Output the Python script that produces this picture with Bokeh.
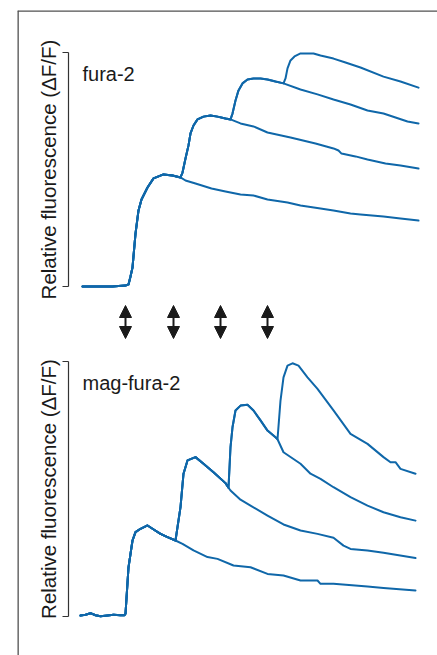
import math
from bokeh.plotting import figure
from bokeh.models import Range1d, Arrow, NormalHead, ColumnDataSource, Span
from bokeh.core.properties import value
from bokeh.embed import file_html
from bokeh.resources import INLINE

# ---------------- data (time in s, fluorescence relative to scale bar) ----------------
# fura-2 traces (1..4 stimuli)
fura_base_t = [0, 18, 30, 36, 43, 46, 48, 50, 53, 56, 59, 65, 71, 81, 90, 98]
fura_base_y = [0, 0, 0, 0.002, 0.004, 0.009, 0.043, 0.081, 0.226, 0.325, 0.372, 0.423, 0.462, 0.479, 0.474, 0.466]

fura1_t = [103, 113, 129, 143, 158, 171, 185, 205, 218, 238, 251, 268, 278, 301, 318, 336]
fura1_y = [0.453, 0.440, 0.419, 0.406, 0.393, 0.389, 0.372, 0.359, 0.346, 0.333, 0.325, 0.312, 0.308, 0.299, 0.291, 0.282]

fura2_rise_t = [100, 103, 106, 108, 111, 115, 121, 128, 135, 143, 148]
fura2_rise_y = [0.487, 0.547, 0.603, 0.654, 0.688, 0.714, 0.726, 0.731, 0.726, 0.718, 0.714]
fura2_t = [158, 171, 185, 208, 233, 251, 256, 259, 273, 285, 303, 318, 336]
fura2_y = [0.697, 0.684, 0.658, 0.637, 0.611, 0.590, 0.581, 0.568, 0.556, 0.543, 0.526, 0.517, 0.504]

fura3_rise_t = [150, 153, 156, 160, 165, 171, 178, 185, 193, 201]
fura3_rise_y = [0.739, 0.795, 0.838, 0.868, 0.885, 0.889, 0.889, 0.885, 0.876, 0.868]
fura3_t = [218, 235, 251, 268, 285, 301, 313, 325, 336]
fura3_y = [0.842, 0.821, 0.799, 0.778, 0.752, 0.739, 0.722, 0.705, 0.697]

fura4_t = [203, 205, 208, 212, 218, 225, 231, 238, 251, 263, 278, 301, 318, 336]
fura4_y = [0.889, 0.932, 0.966, 0.983, 0.996, 0.996, 0.996, 0.987, 0.974, 0.957, 0.936, 0.897, 0.876, 0.850]

# mag-fura-2 traces (1..4 stimuli)
mag_base_t = [-2, 3, 8, 13, 18, 25, 31, 38, 42, 43, 46, 50, 53, 58, 65, 70, 78, 85, 93]
mag_base_y = [0.004, 0.007, 0.013, 0.005, 0.001, 0.004, 0.007, 0.005, 0.005, 0.011, 0.193, 0.298,
              0.331, 0.344, 0.357, 0.344, 0.324, 0.311, 0.298]

mag1_t = [100, 111, 125, 135, 151, 168, 185, 201, 218, 235, 238, 251, 285, 301, 333]
mag1_y = [0.285, 0.259, 0.233, 0.226, 0.200, 0.193, 0.167, 0.161, 0.141, 0.141, 0.128, 0.128, 0.118, 0.112, 0.102]

mag2_rise_t = [98, 101, 105, 113, 121, 131, 143, 146]
mag2_rise_y = [0.429, 0.560, 0.612, 0.625, 0.599, 0.566, 0.523, 0.505]
mag2_t = [148, 158, 168, 185, 201, 218, 235, 251, 261, 268, 285, 301, 333]
mag2_y = [0.494, 0.458, 0.435, 0.396, 0.361, 0.337, 0.324, 0.309, 0.278, 0.265, 0.259, 0.250, 0.229]

mag3_rise_t = [148, 150, 153, 158, 165, 171, 178, 185, 193, 195]
mag3_rise_y = [0.664, 0.742, 0.808, 0.827, 0.830, 0.808, 0.769, 0.729, 0.703, 0.695]
mag3_t = [201, 218, 228, 238, 251, 268, 285, 301, 318, 333]
mag3_y = [0.644, 0.599, 0.560, 0.540, 0.507, 0.468, 0.435, 0.409, 0.389, 0.376]

mag4_t = [198, 201, 205, 210, 216, 225, 235, 251, 268, 285, 301, 308, 313, 318, 333]
mag4_y = [0.847, 0.938, 0.984, 0.993, 0.984, 0.938, 0.893, 0.808, 0.716, 0.677, 0.625, 0.605, 0.605, 0.579, 0.560]

stim_times = [43, 91, 138, 185]

panel_names = ["fura-2", "mag-fura-2"]
ylabel_text = "Relative fluorescence (\u0394F/F)"

# ---------------- layout ----------------
W, H = 437, 655
FL, FT = 17, 10          # frame left / top in px
PX_PER_T = 1.0
T0_PX = 82               # px of t = 0
TOP_ZERO, TOP_ONE = 286, 52
BOT_ZERO, BOT_ONE = 616, 361

x_start = (FL - T0_PX) / PX_PER_T
x_end = (W - T0_PX) / PX_PER_T
top_scale = TOP_ZERO - TOP_ONE
bot_scale = BOT_ZERO - BOT_ONE
y_top_end = (TOP_ZERO - FT) / top_scale

p = figure(width=W, height=H, output_backend="svg", toolbar_location=None,
           x_axis_type=None, y_axis_type=None,
           x_range=Range1d(x_start, x_end),
           y_range=Range1d((TOP_ZERO - H) / top_scale, y_top_end),
           min_border_left=FL, min_border_top=FT, min_border_right=0, min_border_bottom=0)
p.extra_y_ranges = {"mag": Range1d((BOT_ZERO - H) / bot_scale, (BOT_ZERO - FT) / bot_scale)}
p.grid.visible = False
p.outline_line_color = None
p.background_fill_color = "white"
p.border_fill_color = "white"

# frame lines (left and top only)
p.add_layout(Span(location=x_start, dimension="height", line_color="#505050", line_width=2.6))
p.add_layout(Span(location=y_top_end, dimension="width", line_color="#505050", line_width=2.6))

BLUE = "#0f67a9"
LW = 2.0

def trace(xs, ys, rng="default", w=LW):
    p.line(xs, ys, line_color=BLUE, line_width=w, line_join="round", line_cap="round", y_range_name=rng)

# fura-2
fura_full = [
    fura_base_t + fura1_t,
    fura_base_t + fura2_rise_t + fura2_t,
    fura_base_t + fura2_rise_t + fura3_rise_t + fura3_t,
    fura_base_t + fura2_rise_t + fura3_rise_t + fura4_t,
]
fura_full_y = [
    fura_base_y + fura1_y,
    fura_base_y + fura2_rise_y + fura2_y,
    fura_base_y + fura2_rise_y + fura3_rise_y + fura3_y,
    fura_base_y + fura2_rise_y + fura3_rise_y + fura4_y,
]
for xs, ys in zip(fura_full, fura_full_y):
    trace(xs, ys)

# mag-fura-2
mag_full = [
    mag_base_t + mag1_t,
    mag_base_t + mag2_rise_t + mag2_t,
    mag_base_t + mag2_rise_t + mag3_rise_t + mag3_t,
    mag_base_t + mag2_rise_t + mag3_rise_t + mag4_t,
]
mag_full_y = [
    mag_base_y + mag1_y,
    mag_base_y + mag2_rise_y + mag2_y,
    mag_base_y + mag2_rise_y + mag3_rise_y + mag3_y,
    mag_base_y + mag2_rise_y + mag3_rise_y + mag4_y,
]
for xs, ys in zip(mag_full, mag_full_y):
    trace(xs, ys, "mag")

# scale brackets
bx = (68 - T0_PX) / PX_PER_T
btick = (62 - T0_PX) / PX_PER_T
label_x = (48 - T0_PX) / PX_PER_T
for rng in ["default", "mag"]:
    p.segment(x0=[bx, btick, btick], y0=[0, 0, 1], x1=[bx, bx, bx], y1=[1, 0, 1],
              line_color="#333333", line_width=1.2, y_range_name=rng)
    p.text(x=[label_x], y=[0.5], text=[ylabel_text], angle=math.pi / 2,
           text_align="center", text_baseline="middle",
           text_font=value("Liberation Sans"), text_font_size="20.5px",
           text_color="#1a1a1a", y_range_name=rng)

# panel names
p.text(x=[0], y=[(TOP_ZERO - 73) / top_scale], text=[panel_names[0]],
       text_align="left", text_baseline="middle",
       text_font=value("Liberation Sans"), text_font_size="20px", text_color="#1a1a1a")
p.text(x=[0], y=[(BOT_ZERO - 382) / bot_scale], text=[panel_names[1]],
       text_align="left", text_baseline="middle",
       text_font=value("Liberation Sans"), text_font_size="20px", text_color="#1a1a1a",
       y_range_name="mag")

# stimulus arrows
ya = (BOT_ZERO - 338) / bot_scale
yb = (BOT_ZERO - 305) / bot_scale
src = ColumnDataSource(dict(x0=stim_times, y0=[ya] * 4, x1=stim_times, y1=[yb] * 4))
p.add_layout(Arrow(x_start="x0", y_start="y0", x_end="x1", y_end="y1", source=src,
                   start=NormalHead(size=12, fill_color="#1a1a1a", line_color="#1a1a1a", line_width=1),
                   end=NormalHead(size=12, fill_color="#1a1a1a", line_color="#1a1a1a", line_width=1),
                   line_color="#1a1a1a", line_width=2, y_range_name="mag"))

open("out.html", "w").write(file_html(p, INLINE))
